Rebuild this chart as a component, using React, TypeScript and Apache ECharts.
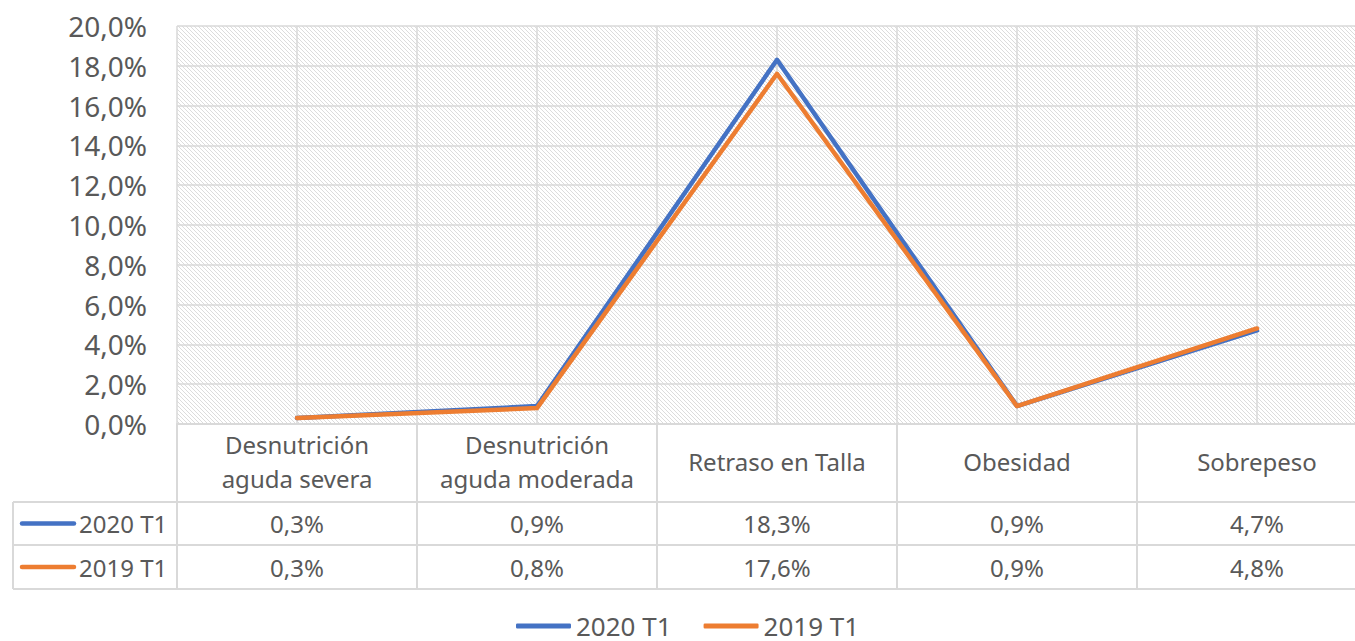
import React, { useEffect, useRef } from "react";
import * as echarts from "echarts";

const categories = [
  "Desnutrición\naguda severa",
  "Desnutrición\naguda moderada",
  "Retraso en Talla",
  "Obesidad",
  "Sobrepeso",
];
const seriesNames = ["2020 T1", "2019 T1"];
const values2020 = [0.003, 0.009, 0.183, 0.009, 0.047];
const values2019 = [0.003, 0.008, 0.176, 0.009, 0.048];
const seriesColors = ["#4472C4", "#ED7D31"];
const yMin = 0;
const yMax = 0.2;
const yInterval = 0.02;

const FONT = "'Noto Sans', 'Open Sans', sans-serif";
const TEXT = "#595959";
const LINE = "#d9d9d9";

const fmt = (v: number) => (v * 100).toFixed(1).replace(".", ",") + "%";

function makePattern() {
  const c = document.createElement("canvas");
  c.width = 4;
  c.height = 4;
  const ctx = c.getContext("2d")!;
  ctx.fillStyle = "#ffffff";
  ctx.fillRect(0, 0, 4, 4);
  ctx.fillStyle = "#dcdcdc";
  for (let i = 0; i < 4; i++) ctx.fillRect(i, i, 1, 1);
  return { image: c, repeat: "repeat", imageWidth: 4, imageHeight: 4 } as any;
}

export default function App() {
  const ref = useRef<HTMLDivElement>(null);
  useEffect(() => {
    const chart = echarts.init(ref.current!, null, { renderer: "svg" });
    const gridLeft = 177;
    const gridTop = 26;
    const gridW = 1200;
    const gridH = 398;
    const rowY = [502, 545, 589];
    const rowCenters = [523.5, 567];
    const seriesValues = [values2020, values2019];

    const graphic: any[] = [];
    rowY.forEach((y) =>
      graphic.push({
        type: "line",
        shape: { x1: 13, y1: y, x2: gridLeft + gridW, y2: y },
        style: { stroke: LINE, lineWidth: 2 },
        silent: true,
      })
    );
    graphic.push({
      type: "line",
      shape: { x1: 13, y1: rowY[0], x2: 13, y2: rowY[2] },
      style: { stroke: LINE, lineWidth: 2 },
      silent: true,
    });
    seriesNames.forEach((name, i) => {
      graphic.push({
        type: "line",
        shape: { x1: 22, y1: rowCenters[i], x2: 74, y2: rowCenters[i] },
        style: { stroke: seriesColors[i], lineWidth: 4.5, lineCap: "round" },
        silent: true,
      });
      graphic.push({
        type: "text",
        x: 79,
        y: rowCenters[i],
        style: {
          text: name,
          font: `24px ${FONT}`,
          fill: TEXT,
          textVerticalAlign: "middle",
          verticalAlign: "middle",
        },
        silent: true,
      });
    });

    const rowAxis = (vals: number[], margin: number) => ({
      type: "category",
      data: categories,
      position: "bottom",
      gridIndex: 0,
      boundaryGap: true,
      axisLine: { show: false },
      axisTick: { show: false },
      splitLine: { show: false },
      axisLabel: {
        interval: 0,
        margin,
        verticalAlign: "middle",
        fontSize: 24,
        fontFamily: FONT,
        color: TEXT,
        formatter: (_v: string, i: number) => fmt(vals[i]),
      },
    });

    chart.setOption({
      animation: false,
      backgroundColor: "#ffffff",
      grid: {
        left: gridLeft,
        top: gridTop,
        width: gridW,
        height: gridH,
        show: true,
        backgroundColor: makePattern(),
        borderWidth: 0,
        outerBoundsMode: "none",
        containLabel: false,
      },
      legend: {
        data: seriesNames,
        left: 516,
        top: 613,
        padding: 0,
        itemWidth: 55,
        itemHeight: 5,
        icon: "roundRect",
        itemGap: 32,
        textStyle: { fontSize: 26, color: TEXT, fontFamily: FONT },
      },
      xAxis: [
        {
          type: "category",
          data: categories,
          position: "bottom",
          boundaryGap: true,
          axisLine: { show: true, lineStyle: { color: LINE, width: 2 } },
          axisTick: { show: true, length: 165, lineStyle: { color: LINE, width: 2 } },
          splitLine: { show: false },
          axisLabel: {
            interval: 0,
            margin: 37,
            verticalAlign: "middle",
            lineHeight: 34,
            fontSize: 24,
            fontFamily: FONT,
            color: TEXT,
          },
        },
        rowAxis(values2020, 99.5),
        rowAxis(values2019, 143),
        {
          type: "value",
          min: 0,
          max: 10,
          interval: 1,
          position: "bottom",
          axisLine: { show: false },
          axisTick: { show: false },
          axisLabel: { show: false },
          splitLine: { show: true, lineStyle: { color: LINE, width: 1.5 } },
        },
      ],
      yAxis: {
        type: "value",
        min: yMin,
        max: yMax,
        interval: yInterval,
        axisLine: { show: false },
        axisTick: { show: false },
        splitLine: { show: true, lineStyle: { color: LINE, width: 1.5 } },
        axisLabel: {
          margin: 30,
          fontSize: 28,
          fontFamily: FONT,
          color: TEXT,
          formatter: (v: number) => fmt(v),
        },
      },
      series: seriesNames.map((name, i) => ({
        name,
        type: "line",
        xAxisIndex: 0,
        yAxisIndex: 0,
        data: seriesValues[i],
        symbol: "none",
        showSymbol: false,
        color: seriesColors[i],
        lineStyle: { color: seriesColors[i], width: 4.5, cap: "round", join: "round" },
        z: 3 + i,
      })),
      graphic,
    });
    return () => chart.dispose();
  }, []);
  return (
    <div
      ref={ref}
      style={{ position: "fixed", left: 0, top: 0, width: 1355, height: 641 }}
    />
  );
}
